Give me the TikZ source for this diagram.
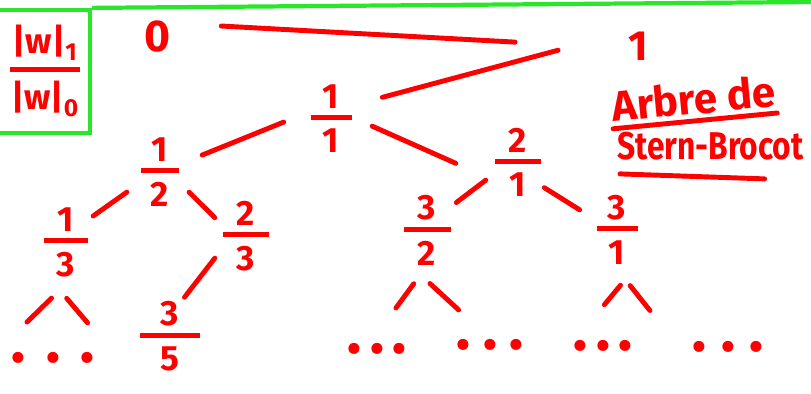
\documentclass[tikz,border=0pt]{standalone}
\usepackage{fontspec}
\setmainfont{Fira Sans}
\usetikzlibrary{calc}
\definecolor{ink}{RGB}{255,0,0}
\definecolor{keygreen}{RGB}{40,230,40}
% fraction: bar width, numerator, denominator
\newcommand{\fr}[3][1.2cm]{\shortstack{#2\\[2.5pt]\rule{#1}{4.3pt}\\[5pt]#3}}
% three dots for a subtree
\newcommand{\moredots}[1]{\raisebox{-0.33em}[0pt][0pt]{\textbullet\hspace{#1}\textbullet\hspace{#1}\textbullet}}
\tikzset{
  % marker strokes
  pen/.style={draw=ink, line width=4.2pt, line cap=round},
  branch/.style={pen},
  num/.style={text=ink, inner sep=0pt, font=\fontsize{30}{36}\selectfont\bfseries},
  frac/.style={num},
  more/.style={text=ink, inner sep=0pt, minimum width=3.3cm, minimum height=1.32cm,
    font=\fontsize{34}{34}\selectfont\bfseries},
  keybox/.style={draw=keygreen, line width=3.6pt, minimum width=3cm, minimum height=3.69cm},
  heading/.style={text=ink, inner sep=0pt, anchor=base west, font=\fontsize{36}{40}\selectfont\bfseries},
}
\begin{document}
\begin{tikzpicture}[x=0.03cm, y=-0.03cm]
\useasboundingbox (0,0) rectangle (811,394);
\clip (0,0) rectangle (811,394);
% green box with |w|_1/|w|_0
\node[keybox] (key) at (40,71.5) {};
\node[frac] (ratio) at (45,71) {\fr[2.1cm]{|w|\textsubscript{1}}{|w|\textsubscript{0}}};
\coordinate (rim) at (811,2);
\draw[keygreen, line width=3.6pt] (key.north east) -- (rim);
% title
\node[heading, rotate=5.5] (arbre) at (613,122) {Arbre de};
\node[heading, font=\fontsize{33}{36}\selectfont\bfseries] (stern) at (617,159) {\scalebox{0.82}[1]{Stern-Brocot}};
\draw[pen] ([yshift=-5pt]arbre.south west) -- ([yshift=-5pt]arbre.south east);
\draw[pen] ($(stern.south west)+(3,14)$) -- ($(stern.south west)!.79!(stern.south east)+(0,19)$);
% the tree
\node[num, font=\fontsize{38}{40}\selectfont\bfseries] (zero) at (158,37) {0};
\node[num, font=\fontsize{36}{40}\selectfont\bfseries] (one) at (638,46) {1};
\node[frac] (f11) at (331,118.5) {\fr[1.23cm]{1}{1}};
\node[frac] (f12) at (160,172.5) {\fr[1.14cm]{1}{2}};
\node[frac] (f21) at (518,162.5) {\fr[1.38cm]{2}{1}};
\node[frac] (f13) at (66,242.5) {\fr[1.32cm]{1}{3}};
\node[frac] (f23) at (246,236.5) {\fr[1.38cm]{2}{3}};
\node[frac] (f32) at (427,230.5) {\fr[1.41cm]{3}{2}};
\node[frac] (f31) at (617,229.5) {\fr[1.23cm]{3}{1}};
\node[frac] (f35) at (170,336.5) {\fr[1.8cm]{3}{5}};
\node[more] (e13) at (53,358) {\moredots{0.63cm}};
\node[more] (e32a) at (377,349) {\moredots{0.26cm}};
\node[more] (e32b) at (490,345) {\moredots{0.38cm}};
\node[more] (e31a) at (603,346) {\moredots{0.26cm}};
\node[more] (e31b) at (728,347) {\moredots{0.45cm}};

\draw[branch, shorten <=1.5cm, shorten >=3.39cm] (zero.46) -- (one.193);
\draw[branch, shorten <=2.17cm, shorten >=0.95cm] (one.north west) -- (f11.32);
\draw[branch, shorten <=0.86cm, shorten >=0.74cm] (f11.161) -- (f12.23);
\draw[branch, shorten <=0.67cm, shorten >=1.28cm] (f11.4) -- (f21.218);
\draw[branch, shorten <=0.51cm, shorten >=0.18cm] (f12.207) -- (f13.46);
\draw[branch, shorten <=0.42cm, shorten >=0.34cm] (f12.333) -- (f23.155);
\draw[branch, shorten <=0.39cm, shorten >=0.15cm] (f23.206) -- (f35.72);
\draw[branch, shorten <=0.34cm, shorten >=0.21cm] (f21.205) -- (f32.45);
\draw[branch, shorten <=0.11cm, shorten >=0.59cm] (f21.315) -- (f31.156);
% subtrees left out
\draw[branch, shorten <=0.89cm, shorten >=0.59cm] (f13.281) -- (e13.151);
\draw[branch, shorten <=0.82cm, shorten >=0.51cm] (f13.244) -- (e13.26);
\draw[branch, shorten <=0.67cm, shorten >=0.70cm] (f32.south) -- (e32a.77);
\draw[branch, shorten <=0.79cm, shorten >=0.57cm] (f32.245) -- (e32b.128);
\draw[branch, shorten <=0.81cm, shorten >=0.74cm] (f31.south east) -- (e31a.123);
\draw[branch, shorten <=0.81cm, shorten >=1.10cm] (f31.264) -- (e31b.172);
\end{tikzpicture}
\end{document}
